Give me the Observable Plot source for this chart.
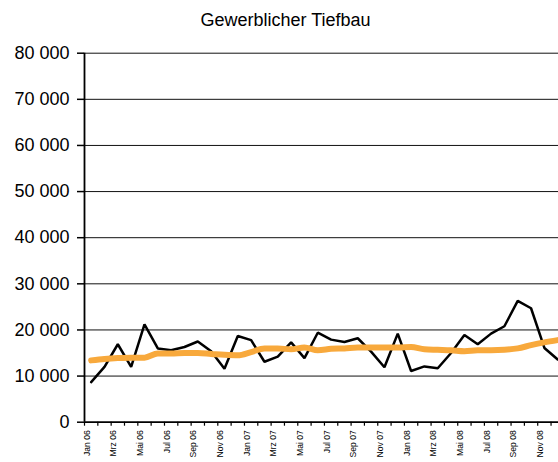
<!DOCTYPE html>
<html>
<head>
<meta charset="utf-8">
<script src="https://cdn.jsdelivr.net/npm/d3@7"></script>
<script src="https://cdn.jsdelivr.net/npm/@observablehq/plot@0.6"></script>
<style>
  html, body { margin: 0; padding: 0; background: white; overflow: hidden; }
  #title { font-family: "Liberation Sans", Arial, sans-serif; font-size: 18px; text-align: center;
           padding-left: 13px; padding-top: 10px; height: 24px; line-height: 20px; color: #000; }
</style>
</head>
<body>
<div id="title">Gewerblicher Tiefbau</div>
<div id="chart"></div>
<script>
const months = ["Jan 06","Feb 06","Mrz 06","Apr 06","Mai 06","Jun 06","Jul 06","Aug 06","Sep 06","Okt 06","Nov 06","Dez 06",
                "Jan 07","Feb 07","Mrz 07","Apr 07","Mai 07","Jun 07","Jul 07","Aug 07","Sep 07","Okt 07","Nov 07","Dez 07",
                "Jan 08","Feb 08","Mrz 08","Apr 08","Mai 08","Jun 08","Jul 08","Aug 08","Sep 08","Okt 08","Nov 08","Dez 08"];
const werte = [8700, 12000, 16900, 12000, 21200, 16000, 15600, 16300, 17500, 15400, 11600, 18700,
               17800, 13100, 14200, 17300, 13900, 19400, 17900, 17400, 18200, 15300, 11900, 19200,
               11100, 12100, 11700, 15000, 18900, 16900, 19200, 20800, 26300, 24700, 16100, 13600];
const trend = [13400, 13700, 13900, 14000, 14000, 14900, 14900, 15000, 15000, 14800, 14600, 14500,
               15200, 16000, 16000, 15800, 16200, 15600, 15900, 16000, 16200, 16200, 16200, 16200,
               16300, 15800, 15700, 15600, 15400, 15600, 15600, 15700, 16000, 16700, 17300, 17800];
const yTicks = [0, 10000, 20000, 30000, 40000, 50000, 60000, 70000, 80000];

const rows = months.map((m, i) => ({i, m, wert: werte[i], trend: trend[i]}));
const fmt = v => d3.format(",")(v).replace(/,/g, " ");
const boundaries = d3.range(0, 37).map(k => k - 0.5);
const labelPos = d3.range(0, 36, 2).map(i => i - 0.32);

const chart = Plot.plot({
  width: 558,
  height: 428,
  marginTop: 18.7,
  marginBottom: 40.3,
  marginLeft: 84,
  marginRight: 0,
  style: {overflow: "hidden", fontFamily: "'Liberation Sans', Arial, sans-serif", background: "white", color: "#000"},
  x: {type: "linear", domain: [-0.5, 35.5], range: [84, 84 + 36 * 13.33]},
  y: {domain: [0, 80000]},
  marks: [
    Plot.ruleY(yTicks.filter(d => d > 0), {x1: -0.5, x2: 35.5, stroke: "#111", strokeWidth: 1}),
    Plot.axisY({ticks: yTicks, tickFormat: fmt, tickSize: 7, tickPadding: 8, fontSize: 18, stroke: "#000", strokeWidth: 1.5, label: null}),
    Plot.axisX({ticks: boundaries, tickFormat: () => "", tickSize: 4, stroke: "#000", strokeWidth: 1.2, label: null}),
    Plot.axisX({ticks: labelPos, tickFormat: d => months[Math.round(d)], tickSize: 0, tickPadding: 8, tickRotate: -90, fontSize: 8.6, label: null}),
    Plot.ruleX([-0.5], {y1: 0, y2: 80000, stroke: "#000", strokeWidth: 1.8}),
    Plot.ruleY([0], {x1: -0.5, x2: 35.5, stroke: "#000", strokeWidth: 1.8}),
    Plot.line(rows, {x: "i", y: "wert", stroke: "#000", strokeWidth: 2.5, strokeLinejoin: "miter"}),
    Plot.line(rows, {x: "i", y: "trend", stroke: "#F8A93C", strokeWidth: 6, curve: "monotone-x"})
  ]
});
document.getElementById("chart").appendChild(chart);
</script>
</body>
</html>
